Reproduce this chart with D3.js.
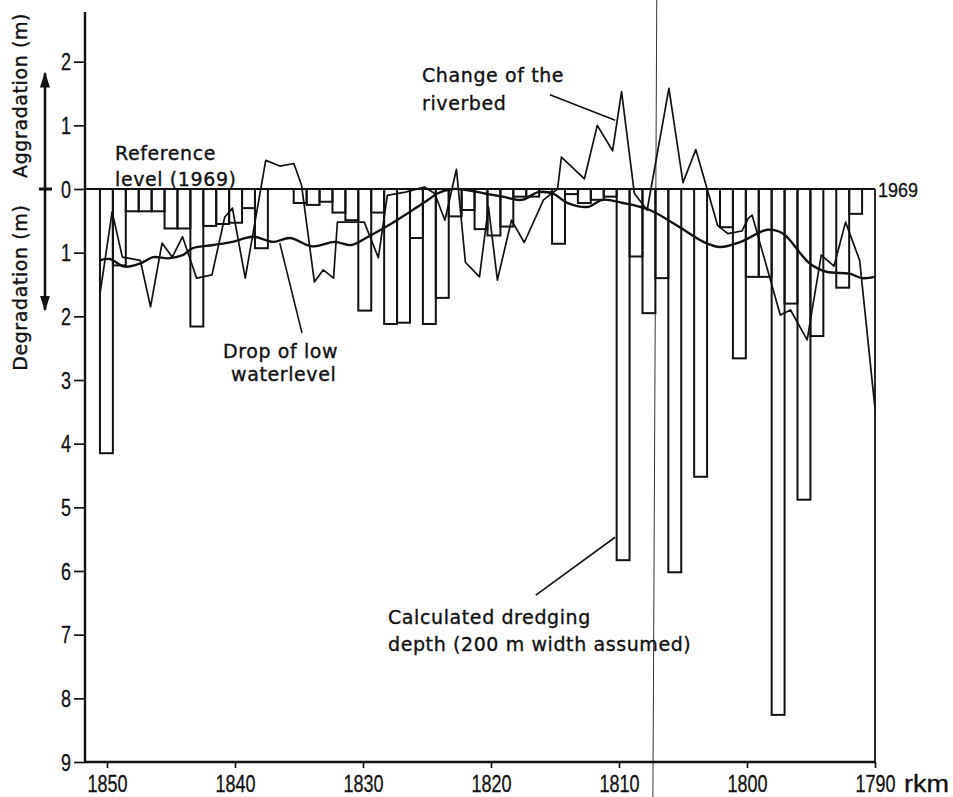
<!DOCTYPE html>
<html><head><meta charset="utf-8">
<script src="https://cdn.jsdelivr.net/npm/d3@7"></script>
<style>
body{margin:0;background:#fff}
.lbl{font-family:"DejaVu Sans",sans-serif;font-size:19px;letter-spacing:0.6px;fill:#111;stroke:#111;stroke-width:0.35px}
.num{font-family:"Liberation Sans",Arial,sans-serif;font-size:23px;fill:#111;stroke:#111;stroke-width:0.3px}
</style>
</head><body>
<svg id="c" width="953" height="797"></svg>
<script>
// ---- data ----
const barKm = d3.range(1850, 1790, -1); // one bar per river km
const barDepth = [4.15,1.2,0.35,0.35,0.35,0.62,0.62,2.16,0.58,0.55,
  0.53,0.3,0.93,0,0,0.22,0.25,0.2,0.37,0.49,
  1.91,0.37,2.12,2.1,0.77,2.12,1.71,0.43,0.33,0.63,
  0.73,0.59,0.12,0.12,0.05,0.86,0.08,0.22,0.17,0.12,
  5.83,1.06,1.95,1.4,6.02,0,4.52,0,0.6,2.66,
  1.38,1.38,8.26,1.8,4.88,2.31,0,1.55,0.39,0];
// change of the riverbed (positive = degradation, negative = aggradation)
const riverKm = [1850.55,1849.6,1848.8,1847.4,1846.6,1845.7,1844.9,1844.1,1843.0,1841.8,
  1840.8,1840.2,1839.2,1837.6,1836.5,1835.4,1834.8,1833.8,1833.1,1832.3,
  1832.0,1829.9,1828.8,1828.1,1826.7,1825.2,1824.4,1823.6,1822.7,1822.0,
  1820.9,1820.2,1819.5,1818.4,1817.4,1815.9,1814.8,1814.5,1812.7,1811.7,
  1810.5,1809.8,1808.8,1807.8,1806.1,1805.0,1804.0,1802.3,1801.5,1800.4,
  1799.9,1799.6,1797.4,1796.6,1795.3,1794.2,1793.2,1792.3,1791.2,1790.0];
const riverVal = [1.65,0.36,1.07,1.12,1.85,0.85,1.07,0.75,1.4,1.35,
  0.44,0.3,1.4,-0.45,-0.36,-0.4,-0.06,1.46,1.27,1.4,
  0.52,0.52,1.08,0.1,0.05,-0.03,0.07,0.49,-0.31,1.15,
  1.38,0.28,1.43,0.49,0.84,0.17,0.0,-0.5,-0.16,-1.0,
  -0.6,-1.53,0.07,0.33,-1.58,-0.1,-0.62,0.57,0.7,0.66,
  0.46,0.41,1.98,1.9,2.37,1.04,1.21,0.52,1.12,3.45];
// drop of low waterlevel
const lowKm = [1850.55,1849.8,1848.6,1847.4,1846.4,1845.2,1844.1,1843.3,1841.7,1840.2,
  1838.6,1837.0,1835.7,1834.0,1832.2,1830.9,1829.6,1828.0,1826.5,1824.9,
  1824.2,1823.0,1821.8,1820.5,1819.1,1817.6,1816.3,1815.2,1814.0,1812.4,
  1811.3,1809.7,1807.6,1805.5,1803.4,1802.1,1800.5,1798.4,1797.2,1795.1,
  1793.8,1792.0,1791.0,1790.0];
const lowVal = [1.12,1.1,1.22,1.17,1.07,1.09,1.04,0.93,0.88,0.83,
  0.75,0.83,0.77,0.9,0.83,0.88,0.75,0.57,0.38,0.17,
  0.07,0.0,0.02,0.07,0.12,0.17,0.05,0.07,0.22,0.28,
  0.17,0.22,0.33,0.57,0.83,0.91,0.83,0.64,0.7,1.17,
  1.3,1.33,1.4,1.38];
const xTicks = [1850,1840,1830,1820,1810,1800,1790];
const yTicks = [-2,-1,0,1,2,3,4,5,6,7,8,9];
const yTickLabels = ["2","1","0","1","2","3","4","5","6","7","8","9"];

// ---- scales ----
const svg = d3.select("#c");
const x = d3.scaleLinear().domain([1850,1790]).range([107,875]);
const y = d3.scaleLinear().domain([0,9]).range([189,762]);
const band = d3.scaleBand().domain(barKm).range([x(1850.55), x(1790)]).paddingInner(0).paddingOuter(0);
const ink = "#111";

// scan fold line
svg.append("line").attr("x1", x(1807.05)).attr("y1", 0).attr("x2", x(1807.35)).attr("y2", 797)
  .attr("stroke", "#333").attr("stroke-width", 1);

// bars
svg.append("g").selectAll("rect")
  .data(barKm.map((k,i)=>({k, d:barDepth[i]})).filter(o=>o.d>0))
  .join("rect")
  .attr("x", o=>band(o.k)).attr("width", band.bandwidth())
  .attr("y", y(0)).attr("height", o=>y(o.d)-y(0))
  .attr("fill","none").attr("stroke",ink).attr("stroke-width",2);

// lines
const river = riverKm.map((k,i)=>[k, riverVal[i]]);
const low = lowKm.map((k,i)=>[k, lowVal[i]]);
svg.append("path").datum(river)
  .attr("d", d3.line().x(d=>x(d[0])).y(d=>y(d[1])))
  .attr("fill","none").attr("stroke",ink).attr("stroke-width",1.7).attr("stroke-linejoin","round");
svg.append("path").datum(low)
  .attr("d", d3.line().curve(d3.curveCatmullRom.alpha(0.5)).x(d=>x(d[0])).y(d=>y(d[1])))
  .attr("fill","none").attr("stroke",ink).attr("stroke-width",2.4);

// zero (reference) line and frame
svg.append("line").attr("x1", 85).attr("x2", x(1790)).attr("y1", y(0)).attr("y2", y(0))
  .attr("stroke", ink).attr("stroke-width", 2);
svg.append("line").attr("x1", x(1790)).attr("x2", x(1790)).attr("y1", y(0)).attr("y2", y(9))
  .attr("stroke", ink).attr("stroke-width", 1.8);

// y axis
const ya = svg.append("g").attr("transform","translate(85,0)")
  .call(d3.axisLeft(y).tickValues(yTicks).tickFormat((d,i)=>yTickLabels[i]).tickSize(11).tickPadding(3));
ya.select(".domain").remove();
ya.selectAll(".tick line").attr("stroke", ink).attr("stroke-width", 1.7);
ya.selectAll(".tick text").attr("class","num").attr("font-size",null).attr("font-family",null)
  .attr("textLength", 10).attr("lengthAdjust","spacingAndGlyphs").attr("dy","0.36em");
svg.append("line").attr("x1",85).attr("x2",85).attr("y1",y(-2.78)).attr("y2",y(9))
  .attr("stroke",ink).attr("stroke-width",2.4);

// x axis
const xa = svg.append("g").attr("transform",`translate(0,${y(9)})`)
  .call(d3.axisBottom(x).tickValues(xTicks).tickFormat(d3.format("d")).tickSize(6));
xa.select(".domain").remove();
xa.selectAll(".tick line").attr("stroke", ink).attr("stroke-width", 1.7);
xa.selectAll(".tick text").attr("class","num").attr("font-size",null).attr("font-family",null)
  .attr("textLength", 40).attr("lengthAdjust","spacingAndGlyphs").attr("y", 30).attr("dy", 0);
svg.append("line").attr("x1",84).attr("x2",x(1790)).attr("y1",y(9)).attr("y2",y(9))
  .attr("stroke",ink).attr("stroke-width",2.4);
svg.append("text").attr("class","num").attr("x", 904).attr("y", y(9)+30)
  .attr("textLength", 45).attr("lengthAdjust","spacingAndGlyphs").text("rkm");
svg.append("text").attr("class","num").attr("x", x(1790)+3).attr("y", y(0)+8)
  .style("font-size","21px").attr("textLength", 40).attr("lengthAdjust","spacingAndGlyphs").text("1969");

// axis titles
svg.append("text").attr("class","lbl").attr("text-anchor","middle")
  .attr("transform",`translate(27,${y(-1.47)}) rotate(-90)`).text("Aggradation (m)");
svg.append("text").attr("class","lbl").attr("text-anchor","middle")
  .attr("transform",`translate(27,${y(1.55)}) rotate(-90)`).text("Degradation (m)");

// double arrow
const defs = svg.append("defs");
defs.append("marker").attr("id","ah").attr("viewBox","0 0 10 10").attr("refX",9).attr("refY",5)
  .attr("preserveAspectRatio","none")
  .attr("markerWidth",16).attr("markerHeight",10).attr("markerUnits","userSpaceOnUse").attr("orient","auto-start-reverse")
  .append("path").attr("d","M0,0 L10,5 L0,10 Z").attr("fill",ink);
svg.append("line").attr("x1",45).attr("x2",45).attr("y1",y(-1.82)).attr("y2",y(1.9))
  .attr("stroke",ink).attr("stroke-width",2.6)
  .attr("marker-start","url(#ah)").attr("marker-end","url(#ah)");
svg.append("line").attr("x1",39).attr("x2",52).attr("y1",y(0)).attr("y2",y(0))
  .attr("stroke",ink).attr("stroke-width",3);

// annotations
const notes = [
  ["Reference",115,160],["level (1969)",115,186],
  ["Change of the",422,82],["riverbed",422,110],
  ["Drop of low",223,358],["waterlevel",231,381],
  ["Calculated dredging",388,624],["depth (200 m width assumed)",388,651]
];
svg.append("g").selectAll("text").data(notes).join("text")
  .attr("class","lbl").attr("x",d=>d[1]).attr("y",d=>d[2]).text(d=>d[0]);

// leader lines (in data coordinates)
const leaders = [
  [[1815.4,-1.48],[1810.3,-1.08]],
  [[1834.77,2.26],[1836.5,0.85]],
  [[1816.5,6.38],[1810.3,5.47]]
];
svg.append("g").selectAll("line").data(leaders).join("line")
  .attr("x1",d=>x(d[0][0])).attr("y1",d=>y(d[0][1]))
  .attr("x2",d=>x(d[1][0])).attr("y2",d=>y(d[1][1]))
  .attr("stroke",ink).attr("stroke-width",1.6);
</script>
</body></html>
